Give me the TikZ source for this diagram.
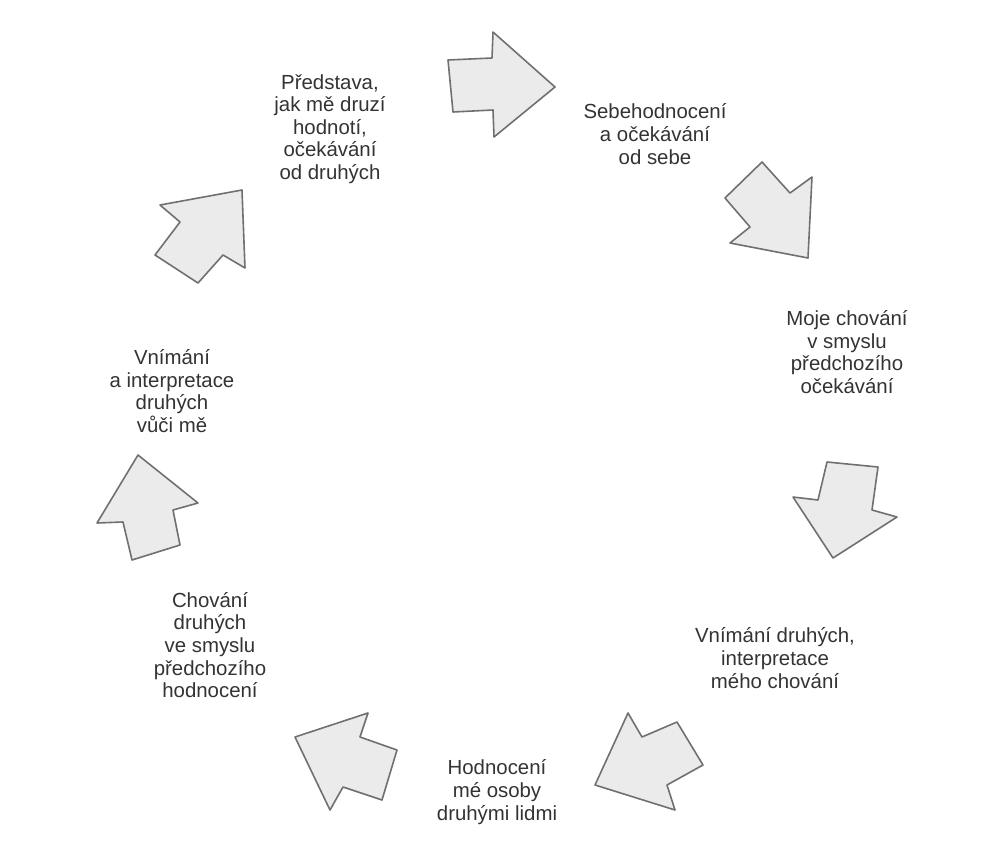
\documentclass[tikz,border=0pt]{standalone}
\usepackage{fontspec}
\setmainfont{Liberation Sans}
\definecolor{txtgray}{HTML}{333333}
\definecolor{arrfill}{HTML}{EBEBEB}
\definecolor{arrline}{HTML}{707070}
\begin{document}
\begin{tikzpicture}[x=0.5pt,y=-0.5pt,
  lbl/.style={align=center,text=txtgray,inner sep=0pt,
    font=\fontsize{10.2pt}{11.3pt}\selectfont},
  blockarrow/.style={fill=arrfill,draw=arrline,line width=0.8pt,line join=round}]
\useasboundingbox (0,0) rectangle (1008,847);
% labels
\node[lbl] (predstava) at (330,129) {Představa,\\jak mě druzí\\hodnotí,\\očekávání\\od druhých};
\node[lbl] (sebe) at (655,134) {Sebehodnocení\\a očekávání\\od sebe};
\node[lbl] (moje) at (847,352) {Moje chování\\v smyslu\\předchozího\\očekávání};
\node[lbl] (vnimdr) at (775,658) {Vnímání druhých,\\interpretace\\mého chování};
\node[lbl] (hodn) at (497,792) {Hodnocení\\mé osoby\\druhými lidmi};
\node[lbl] (chovdr) at (210,645) {Chování\\druhých\\ve smyslu\\předchozího\\hodnocení};
\node[lbl] (vnimint) at (172,391) {Vnímání\\a interpretace\\druhých\\vůči mě};
% block arrows
\draw[blockarrow] (448,60) -- (492,58) -- (493,32) -- (555,87) -- (494,137) -- (493,110) -- (453,112) -- cycle;
\draw[blockarrow] (762,162) -- (790,193) -- (812,177) -- (808,258) -- (730,243) -- (750,227) -- (725,198) -- cycle;
\draw[blockarrow] (827,462) -- (878,467) -- (872,510) -- (897,517) -- (833,558) -- (793,497) -- (818,500) -- cycle;
\draw[blockarrow] (628,713) -- (642,737) -- (677,722) -- (703,765) -- (667,785) -- (675,810) -- (595,785) -- cycle;
\draw[blockarrow] (368,713) -- (360,737) -- (397,750) -- (382,800) -- (343,787) -- (330,810) -- (295,737) -- cycle;
\draw[blockarrow] (138,455) -- (198,503) -- (173,510) -- (180,545) -- (132,560) -- (123,522) -- (97,523) -- cycle;
\draw[blockarrow] (160,205) -- (242,190) -- (245,268) -- (223,255) -- (198,283) -- (155,255) -- (180,222) -- cycle;
\end{tikzpicture}
\end{document}
